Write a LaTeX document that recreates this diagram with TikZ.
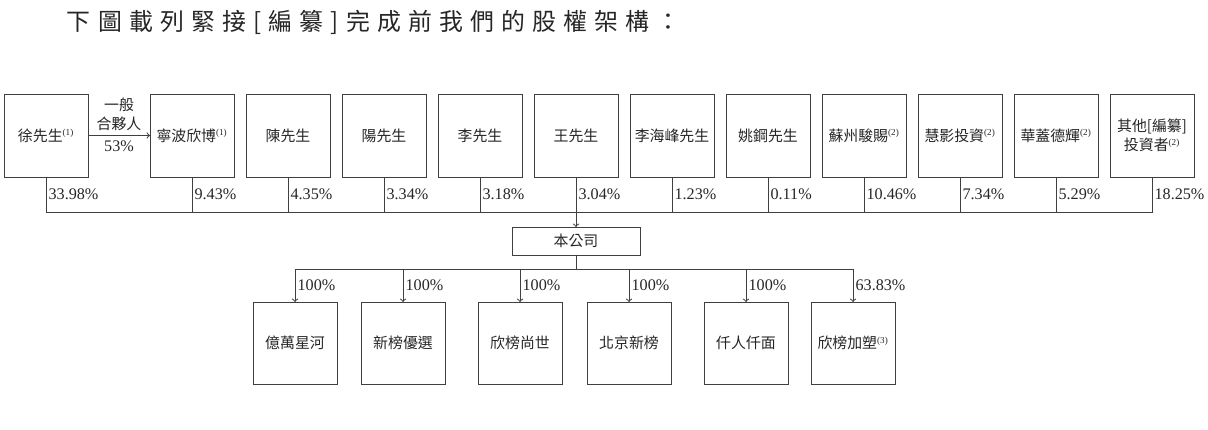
\documentclass[tikz,border=0pt]{standalone}
\usepackage{fontspec}
\setmainfont{Liberation Serif}
\newfontfamily\cjk{Noto Sans CJK TC}
\newfontfamily\cjktitle[LetterSpace=30]{Noto Sans CJK TC}
\usetikzlibrary{positioning}
\newcommand{\fnote}[1]{\textsuperscript{\rmfamily\fontsize{6.5}{6.5}\selectfont(#1)}}

\begin{document}
\begin{tikzpicture}[node distance=0.3cm,
      every node/.style={font=\fontsize{11.5}{13}\selectfont, text=black!85},
      holder/.style={draw=black!75, line width=0.7pt, minimum width=2.1cm, minimum height=2.075cm,
                     inner sep=1pt, outer sep=0pt, align=center, font=\cjk\fontsize{10.6}{13.5}\selectfont},
      sub/.style={holder, minimum height=2.05cm},
      link/.style={draw=black!75, line width=0.7pt},
      pct/.style={right, inner sep=1.5pt}]
      \useasboundingbox (0,0) rectangle (30.2,-10.75);

      % Titel
      \node[anchor=west, font=\cjktitle\fontsize{17}{20}\selectfont] (title) at (1.55,-0.55)
            {下圖載列緊接[編纂]完成前我們的股權架構：};

      % Gesellschafter
      \node[holder] (b1) at (1.15,-3.3875) {徐先生\fnote{1}};
      \node[holder, right=1.55cm of b1] (b2) {寧波欣博\fnote{1}};
      \node[holder, right=of b2] (b3) {陳先生};
      \node[holder, right=of b3] (b4) {陽先生};
      \node[holder, right=of b4] (b5) {李先生};
      \node[holder, right=of b5] (b6) {王先生};
      \node[holder, right=of b6] (b7) {李海峰先生};
      \node[holder, right=of b7] (b8) {姚鋼先生};
      \node[holder, right=of b8] (b9) {蘇州駿賜\fnote{2}};
      \node[holder, right=of b9] (b10) {慧影投資\fnote{2}};
      \node[holder, right=of b10] (b11) {華蓋德輝\fnote{2}};
      \node[holder, right=of b11] (b12) {其他[編纂]\\投資者\fnote{2}};

      % Komplementär-Pfeil
      \draw[link, ->] (b1) -- node[above, align=center, font=\cjk\fontsize{10.6}{13.5}\selectfont] {一般\\合夥人}
            node[below] {53\%} (b2);

      % Gesellschaft
      \node[holder, minimum width=3.2cm, minimum height=0.7cm, below=1.25cm of b6] (co) {本公司};

      % Sammelschiene oben
      \coordinate (tbus) at (0,-5.3);
      \draw[link] (b1.south) -- node[pct] {33.98\%} (b1.south |- tbus) -- (b12.south |- tbus)
            -- node[pct] {18.25\%} (b12.south);
      \foreach \n/\p in {2/9.43, 3/4.35, 4/3.34, 5/3.18, 7/1.23, 8/0.11, 9/10.46, 10/7.34, 11/5.29}
            \draw[link] (b\n.south) -- node[pct] {\p\%} (b\n.south |- tbus);
      \draw[link, ->] (b6.south) -- node[pct] {3.04\%} (b6.south |- tbus) -- (co.north);

      % Tochtergesellschaften
      \node[sub] (cA) at (7.375,-8.575) {億萬星河};
      \node[sub, right=0.6cm of cA] (cB) {新榜優選};
      \node[sub, right=0.825cm of cB] (cC) {欣榜尚世};
      \node[sub, right=0.625cm of cC] (cD) {北京新榜};
      \node[sub, right=0.825cm of cD] (cE) {仟人仟面};
      \node[sub, right=0.575cm of cE] (cF) {欣榜加塑\fnote{3}};

      % Pfeile zu den Töchtern
      \foreach \c/\p in {cA/100, cB/100, cC/100, cD/100, cE/100, cF/63.83}
            \draw[link, ->] (co.south) -- ++(0,-0.35) -| node[pct, pos=0.75] {\p\%} (\c.north);
\end{tikzpicture}
\end{document}
